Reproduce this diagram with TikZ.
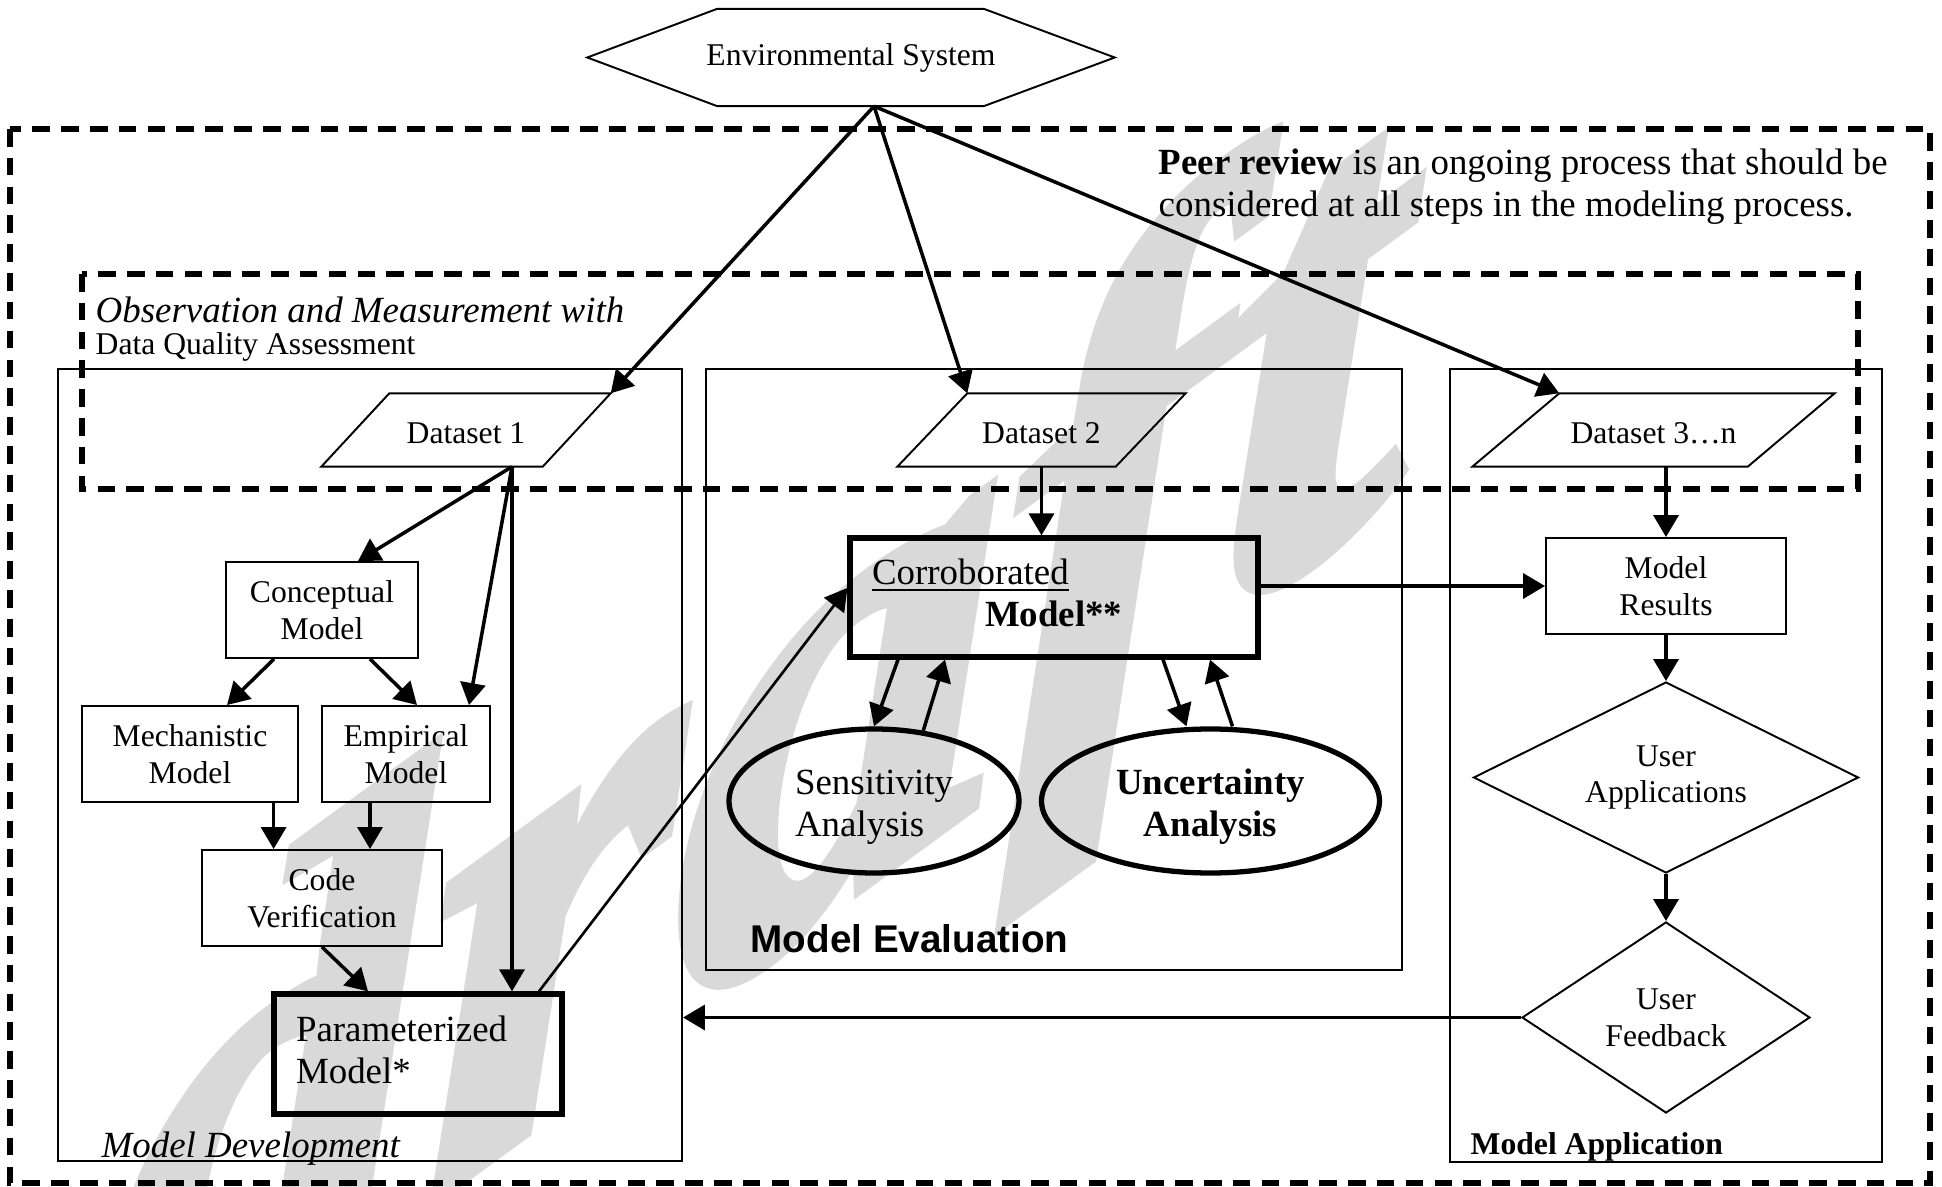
\documentclass[tikz,border=0pt]{standalone}
\usepackage{fontspec}
\setmainfont{Liberation Serif}
\newfontfamily\evalfont{Liberation Sans}
\newfontfamily\stampfont[BoldItalicFeatures={FakeBold=2.5}]{Liberation Serif}
\usetikzlibrary{calc,arrows.meta,shapes.geometric}
\tikzset{
	zone/.style={draw, line width=0.55pt, inner sep=0pt},
	fence/.style={line width=1.6pt, dash pattern=on 5pt off 3.2pt},
	stepbox/.style={draw, line width=0.55pt, align=center, inner sep=0pt, font=\fontsize{9}{10.5}\selectfont},
	keybox/.style={draw, line width=1.5pt, align=left, inner xsep=0.22cm, inner ysep=0pt, text depth=0.51cm, font=\fontsize{10.5}{12}\selectfont},
	dataset/.style={inner sep=0pt, minimum height=0.72cm, text height=0.27cm, text depth=0pt, font=\fontsize{9}{10.5}\selectfont},
	study/.style={draw, line width=1.5pt, ellipse, inner sep=0pt, minimum height=1.44cm, text height=0.79cm, font=\fontsize{10.5}{12}\selectfont},
	decision/.style={stepbox, diamond, aspect=2, minimum height=1.91cm},
	flow/.style={line width=1pt, -{Triangle[length=2.2mm,width=2.5mm]}},
}
\def\dataframe(#1)(#2){\draw[line width=0.55pt] (#1.south west) -- ([xshift=#2]#1.north west) -- (#1.north east) -- ([xshift=-#2]#1.south east) -- cycle;}

\begin{document}
\begin{tikzpicture}
		%%%%% START %%%%%
		\useasboundingbox (0,0) rectangle (19.42,-11.87);
		
		\begin{scope}
			\clip (0,0) rectangle (19.42,-11.87);
			\node[anchor=base west, inner sep=0pt, yslant=0.73, text=black!15, font=\stampfont\fontsize{185}{185}\selectfont\bfseries\itshape] (stamp) at (1.00,-14.42) {draft};
		\end{scope}
		
		\draw[fence] (0.10,-1.29) rectangle (19.30,-11.83);
		\draw[fence] (0.82,-2.74) rectangle (18.58,-4.89);
		\node[zone, minimum width=6.24cm, minimum height=7.92cm] (dev) at (3.70,-7.65) {};
		\node[zone, minimum width=6.96cm, minimum height=6.01cm] (eval) at (10.54,-6.695) {};
		\node[zone, minimum width=4.32cm, minimum height=7.93cm] (app) at (16.66,-7.655) {};
		
		\node[inner sep=0pt, minimum width=5.26cm, minimum height=0.96cm, font=\fontsize{9}{10.5}\selectfont] (env) at (8.51,-0.575) {Environmental System};
		\draw[line width=0.55pt] (env.west) -- ([xshift=1.30cm]env.north west) -- ([xshift=-1.31cm]env.north east) -- (env.east) -- ([xshift=-1.31cm]env.south east) -- ([xshift=1.30cm]env.south west) -- cycle;
		
		\node[anchor=west, align=left, inner sep=0pt, font=\fontsize{10.5}{12}\selectfont] (peer) at (11.58,-1.87) {\textbf{Peer review} is an ongoing process that should be\\considered at all steps in the modeling process.};
		\node[anchor=base west, inner sep=0pt, font=\fontsize{10.5}{12}\selectfont\itshape] (obs) at (0.95,-3.23) {Observation and Measurement with};
		\node[anchor=base west, inner sep=0pt, font=\fontsize{9}{10.5}\selectfont] (dqa) at (0.95,-3.55) {Data Quality Assessment};
		
		\node[dataset, minimum width=2.88cm] (d1) at (4.66,-4.30) {Dataset 1};
		\dataframe(d1)(0.68cm)
		\node[dataset, minimum width=2.87cm] (d2) at (10.415,-4.30) {Dataset 2};
		\dataframe(d2)(0.70cm)
		\node[dataset, minimum width=3.61cm] (d3) at (16.535,-4.30) {Dataset 3…n};
		\dataframe(d3)(0.87cm)
		
		\node[stepbox, minimum width=1.92cm, minimum height=0.96cm] (concept) at (3.22,-6.10) {Conceptual\\Model};
		\node[stepbox, minimum width=2.16cm, minimum height=0.96cm] (mech) at (1.90,-7.54) {Mechanistic\\Model};
		\node[stepbox, minimum width=1.68cm, minimum height=0.96cm] (empir) at (4.06,-7.54) {Empirical\\Model};
		\node[stepbox, minimum width=2.40cm, minimum height=0.96cm] (code) at (3.22,-8.98) {Code\\Verification};
		\node[keybox, text width=2.44cm, minimum height=1.20cm] (param) at (4.18,-10.54) {Parameterized\\Model*};
		
		\node[keybox, text width=3.64cm, minimum height=1.19cm] (corr) at (10.54,-5.975) {\underline{Corroborated}\\\hspace*{1.13cm}\textbf{Model**}};
		\node[study, minimum width=2.90cm, align=left] (sens) at (8.74,-8.01) {Sensitivity\\Analysis};
		\node[study, minimum width=3.38cm, align=center, font=\fontsize{10.5}{12}\selectfont\bfseries] (unc) at (12.105,-8.01) {Uncertainty\\Analysis};
		
		\node[stepbox, minimum width=2.40cm, minimum height=0.96cm] (results) at (16.66,-5.86) {Model\\Results};
		\node[decision, minimum width=3.85cm] (uses) at (16.66,-7.775) {User\\Applications};
		\node[decision, minimum width=2.88cm] (feedback) at (16.66,-10.175) {User\\Feedback};
		
		\node[anchor=base west, inner sep=0pt, font=\fontsize{10.5}{12}\selectfont\itshape] (devlabel) at (1.01,-11.57) {Model Development};
		\node[anchor=base west, inner sep=0pt, font=\evalfont\fontsize{11}{13}\selectfont\bfseries] (evallabel) at (7.50,-9.52) {Model Evaluation};
		\node[anchor=base west, inner sep=0pt, font=\fontsize{9}{10.5}\selectfont\bfseries] (applabel) at (14.70,-11.54) {Model Application};
		
		\coordinate (envfoot) at ([xshift=0.23cm]env.south);
		\coordinate (d1foot) at ([xshift=0.46cm]d1.south);
		\coordinate (mechfoot) at ([xshift=0.836cm]mech.south);
		\coordinate (empfoot) at ([xshift=-0.36cm]empir.south);
		
		\draw[flow] (envfoot) -- (d1.north east);
		\draw[flow] (envfoot) -- ([xshift=0.70cm]d2.north west);
		\draw[flow] (envfoot) -- ([xshift=0.87cm]d3.north west);
		
		\draw[flow] (d1foot) -- ([xshift=0.36cm]concept.north);
		\draw[flow] (d1foot) -- ([xshift=0.63cm]empir.north);
		\draw[flow] (d1foot) -- (d1foot |- param.north);
		\draw[flow] ([xshift=-0.48cm]concept.south) -- ([xshift=0.37cm]mech.north);
		\draw[flow] ([xshift=0.48cm]concept.south) -- ([xshift=0.11cm]empir.north);
		\draw[flow] (mechfoot) -- (mechfoot |- code.north);
		\draw[flow] (empfoot) -- (empfoot |- code.north);
		\draw[flow] (code.south) -- ([xshift=-0.50cm]param.north);
		\draw[flow, line width=0.75pt] ([xshift=1.21cm]param.north) -- ([yshift=0.095cm]corr.west);
		
		\draw[flow] (d2.south) -- (d2.south |- corr.north);
		\draw[flow] ([xshift=-1.56cm]corr.south) -- (sens.north);
		\draw[flow] (sens.55) -- ([xshift=-1.09cm]corr.south);
		\draw[flow] ([xshift=1.09cm]corr.south) -- ([xshift=-0.24cm]unc.north);
		\draw[flow] ([xshift=0.22cm]unc.north) -- ([xshift=1.56cm]corr.south);
		
		\draw[flow] (corr.east |- results.west) -- (results.west);
		\draw[flow] (results.north |- d3.south) -- (results.north);
		\draw[flow] (results.south) -- (uses.north);
		\draw[flow] (uses.south) -- (feedback.north);
		\draw[flow] (feedback.west) -- (feedback.west -| dev.east);
		
		%%%%% END %%%%%
\end{tikzpicture}
\end{document}
